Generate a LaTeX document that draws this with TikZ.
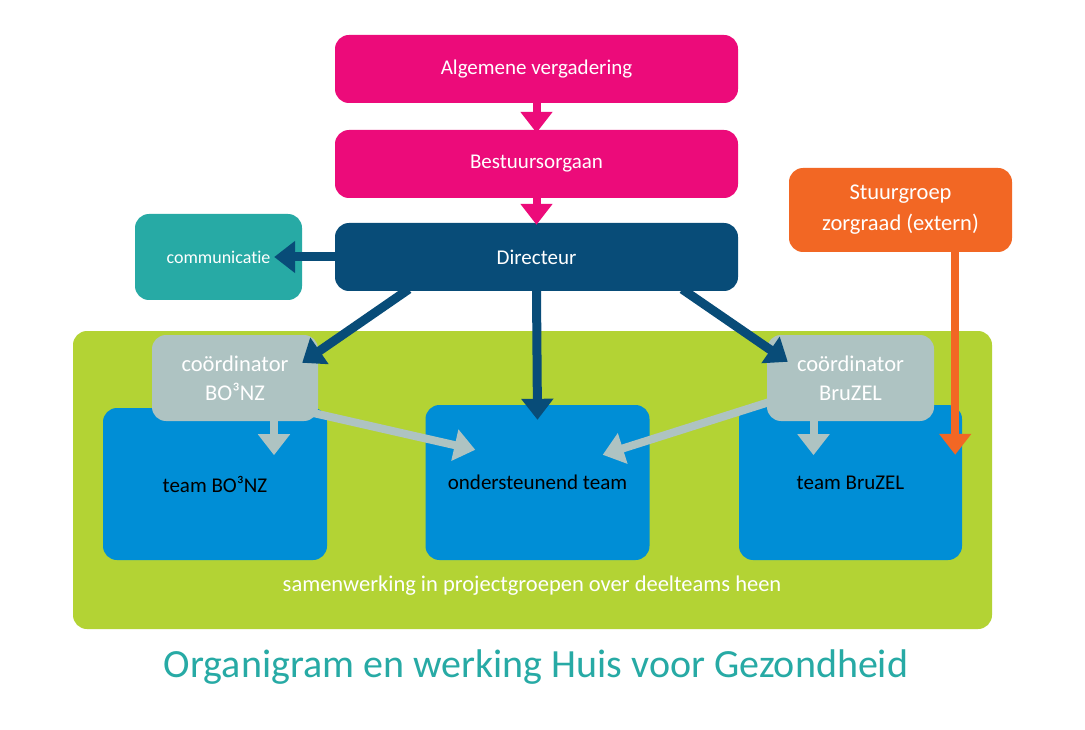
\documentclass[tikz,border=0pt]{standalone}
\usepackage{fontspec}
\setmainfont{Carlito}[Ligatures=NoCommon]
\usetikzlibrary{arrows.meta,calc}
\definecolor{cpink}{HTML}{EC0B7A}
\definecolor{cdark}{HTML}{084C78}
\definecolor{cteal}{HTML}{27AAA5}
\definecolor{corange}{HTML}{F26724}
\definecolor{cgreen}{HTML}{B3D334}
\definecolor{cgrey}{HTML}{AEC3C2}
\definecolor{cblue}{HTML}{008ED6}
\tikzset{
  box/.style={rounded corners=14pt, inner sep=0pt, align=center, font=\fontsize{21}{29}\selectfont, text=white},
  teambox/.style={box, fill=cblue, text=black, minimum width=224, minimum height=152},
  coordbox/.style={box, fill=cgrey, minimum width=166, minimum height=86, font=\fontsize{22.5}{29}\selectfont},
  arr/.style={line width=8pt, -{Triangle[width=31pt,length=21pt]}},
}
\begin{document}
\begin{tikzpicture}[x=1pt,y=-1pt]
\useasboundingbox[fill=white] (0,0) rectangle (1085,730);
% background collaboration area
\node[box, fill=cgreen, minimum width=919, minimum height=298] (area) at (532.5,480) {};
\node[font=\fontsize{22.5}{26}\selectfont, text=white] (samen) at (532,586) {samenwerking in projectgroepen over deelteams heen};
% top boxes
\node[box, fill=cpink, minimum width=403, minimum height=68] (av) at (536.5,69) {Algemene vergadering};
\node[box, fill=cpink, minimum width=403, minimum height=68] (bo) at (536.5,164) {Bestuursorgaan};
\node[box, fill=cdark, minimum width=403, minimum height=68] (dir) at (536.5,257) {Directeur};
\node[box, fill=cteal, minimum width=167, minimum height=86, font=\fontsize{18}{22}\selectfont] (comm) at (218.5,257) {communicatie};
\node[box, fill=corange, minimum width=223, minimum height=84, font=\fontsize{22.5}{31}\selectfont] (sg) at (900.5,210) {Stuurgroep\\zorgraad (extern)};
% teams
\node[teambox] (tb) at (215,484) {team BO³NZ};
\node[teambox, minimum height=155] (ot) at (537.5,482.5) {ondersteunend team};
\node[teambox, minimum width=223, minimum height=155] (tz) at (850.5,482.5) {team BruZEL};
% coordinators
\node[coordbox] (cb) at (235,378) {coördinator\\BO³NZ};
\node[coordbox, minimum width=167] (cz) at (850.5,378) {coördinator\\BruZEL};
% pink arrows
\draw[arr, cpink] (av.south) -- ($(bo.north)+(0,3)$);
\draw[arr, cpink] (bo.south) -- ($(dir.north)+(0,2)$);
% director arrows
\draw[arr, cdark, line width=9pt] (dir.west) -- ($(comm.east)+(-28,0)$);
\draw[arr, cdark, line width=9pt] ($(dir.south west)+(74,-2)$) -- ($(cb.north east)+(-16,28)$);
\draw[arr, cdark, line width=9pt] (dir.south) -- ($(ot.north)+(0,15)$);
\draw[arr, cdark, line width=9pt] ($(dir.south east)+(-56,-2)$) -- ($(cz.north west)+(21,27)$);
% orange arrow
\coordinate (sgx) at ($(sg.south east)+(-57,0)$);
\coordinate (tzin) at ($(tz.north)+(0,50)$);
\draw[arr, corange] (sgx) -- (sgx |- tzin);
% grey arrows
\draw[arr, cgrey] ($(cb.south)+(39,0)$) -- ($(cb.south)+(39,34)$);
\draw[arr, cgrey] ($(cb.south east)+(-4,-8)$) -- ($(ot.north west)+(50,45)$);
\draw[arr, cgrey] ($(cz.south west)+(2,-19)$) -- ($(ot.north east)+(-47,50)$);
\draw[arr, cgrey] ($(cz.south)+(-37,0)$) -- ($(cz.south)+(-37,34)$);
% title
\node[font=\fontsize{40}{46}\selectfont, text=cteal] (title) at (536,667) {Organigram en werking Huis voor Gezondheid};
\end{tikzpicture}
\end{document}
